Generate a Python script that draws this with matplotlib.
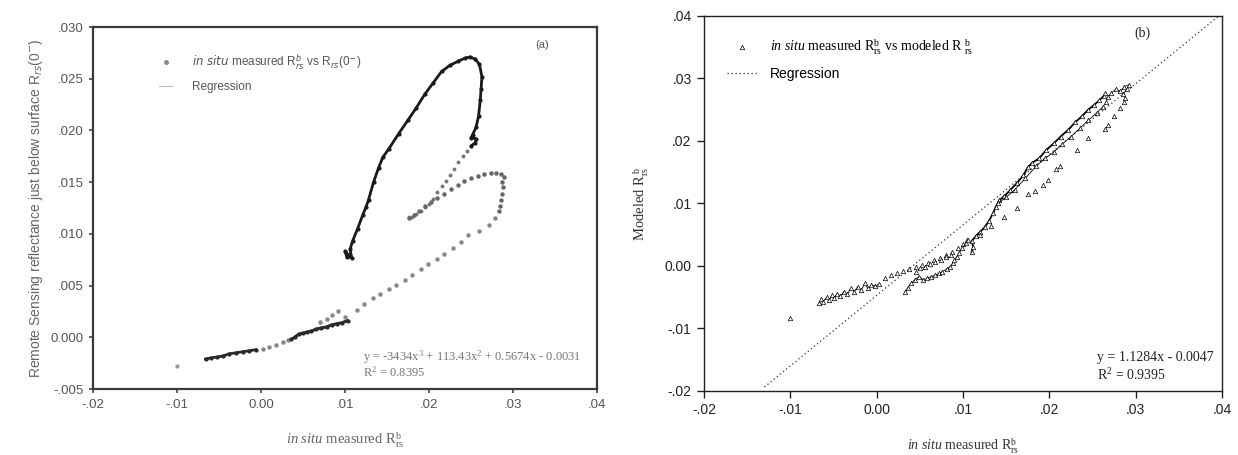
import matplotlib
matplotlib.use("Agg")
import matplotlib.pyplot as plt
from matplotlib.lines import Line2D

plt.rcParams["mathtext.fontset"] = "dejavusans"
plt.rcParams["mathtext.rm"] = "Liberation Serif"
plt.rcParams["mathtext.it"] = "Liberation Serif:italic"
plt.rcParams["mathtext.bf"] = "Liberation Serif:bold"

# ---------------- Panel (a) data ----------------
a_main_x = [0.0104, 0.0100, 0.0102, 0.0108, 0.0106, 0.0109, 0.0115, 0.0121, 0.0125, 0.0128, 0.0134, 0.0140,
            0.0145, 0.0152, 0.0164, 0.0175, 0.0185, 0.0195, 0.0205, 0.0215, 0.0225, 0.0235, 0.0243, 0.0249,
            0.0255, 0.0260, 0.0263, 0.0262, 0.0261, 0.0259, 0.0256, 0.0252, 0.0250, 0.0256, 0.0255, 0.0250]
a_main_y = [0.0080, 0.0083, 0.0078, 0.0077, 0.0085, 0.0093, 0.0105, 0.0118, 0.0126, 0.0133, 0.0150, 0.0164,
            0.0174, 0.0182, 0.0197, 0.0210, 0.0222, 0.0235, 0.0246, 0.0257, 0.0263, 0.0267, 0.0270, 0.0271,
            0.0269, 0.0264, 0.0252, 0.0240, 0.0229, 0.0214, 0.0203, 0.0196, 0.0193, 0.0192, 0.0188, 0.0185]

a_desc_x = [0.0245, 0.0240, 0.0235, 0.0230, 0.0225, 0.0220, 0.0215, 0.0210, 0.0205, 0.0200, 0.0195, 0.0190,
            0.0185, 0.0180, 0.0176]
a_desc_y = [0.0180, 0.0175, 0.0169, 0.0163, 0.0157, 0.0151, 0.0146, 0.0140, 0.0134, 0.0129, 0.0126, 0.0122,
            0.0119, 0.0116, 0.0116]

a_arm_x = [0.0176, 0.0182, 0.0188, 0.0195, 0.0202, 0.0210, 0.0218, 0.0226, 0.0234, 0.0242, 0.0250, 0.0258,
           0.0266, 0.0274, 0.0280, 0.0286, 0.0289, 0.0287, 0.0288, 0.0287, 0.0286, 0.0285, 0.0283]
a_arm_y = [0.0115, 0.0118, 0.0122, 0.0127, 0.0131, 0.0135, 0.0139, 0.0143, 0.0147, 0.0151, 0.0154, 0.0156,
           0.0158, 0.0159, 0.0159, 0.0158, 0.0155, 0.0150, 0.0145, 0.0139, 0.0133, 0.0127, 0.0122]

a_sparse_x = [0.0278, 0.0271, 0.0260, 0.0247, 0.0238, 0.0228, 0.0218, 0.0209, 0.0199, 0.0190, 0.0180, 0.0171,
              0.0161, 0.0152, 0.0142, 0.0133, 0.0123, 0.0114, 0.0002, 0.0010, 0.0018, 0.0026, 0.0032,
              0.0070, 0.0078, 0.0085, 0.0092, 0.0100]
a_sparse_y = [0.0115, 0.0109, 0.0103, 0.0099, 0.0092, 0.0086, 0.0081, 0.0076, 0.0071, 0.0066, 0.0060, 0.0055,
              0.0051, 0.0047, 0.0042, 0.0038, 0.0032, 0.0026, -0.0011, -0.0009, -0.0007, -0.0005, -0.0003,
              0.0015, 0.0018, 0.0022, 0.0025, 0.0020]

a_low1_x = [-0.0066, -0.0060, -0.0052, -0.0045, -0.0038, -0.0030, -0.0022, -0.0014, -0.0006]
a_low1_y = [-0.0021, -0.0020, -0.0019, -0.0018, -0.0016, -0.0015, -0.0014, -0.0013, -0.0012]
a_low2_x = [0.0036, 0.0040, 0.0045, 0.0050, 0.0055, 0.0060, 0.0066, 0.0072, 0.0078, 0.0084, 0.0090, 0.0096, 0.0103]
a_low2_y = [-0.0002, 0.0000, 0.0003, 0.0004, 0.0005, 0.0006, 0.0008, 0.0009, 0.0010, 0.0012, 0.0013, 0.0014, 0.0016]

a_iso_x = [-0.0100]
a_iso_y = [-0.0028]

a_xticks = [-0.02, -0.01, 0.00, 0.01, 0.02, 0.03, 0.04]
a_xticklabels = ["-.02", "-.01", "0.00", ".01", ".02", ".03", ".04"]
a_yticks = [-0.005, 0.000, 0.005, 0.010, 0.015, 0.020, 0.025, 0.030]
a_yticklabels = ["-.005", "0.000", ".005", ".010", ".015", ".020", ".025", ".030"]

# ---------------- Panel (b) data ----------------
b_left_x = [-0.0067, -0.0064, -0.0062, -0.0058, -0.0055, -0.0052, -0.0050, -0.0046, -0.0042, -0.0038, -0.0034,
            -0.0030, -0.0026, -0.0022, -0.0018, -0.0014, -0.0010, -0.0006, -0.0002, 0.0003]
b_left_y = [-0.0060, -0.0053, -0.0057, -0.0050, -0.0055, -0.0047, -0.0052, -0.0045, -0.0048, -0.0041, -0.0045,
            -0.0036, -0.0041, -0.0033, -0.0039, -0.0028, -0.0036, -0.0030, -0.0032, -0.0029]

b_upper_x = [0.0010, 0.0017, 0.0024, 0.0031, 0.0038, 0.0045, 0.0052, 0.0059, 0.0066, 0.0073, 0.0080, 0.0087,
             0.0094, 0.0100, 0.0105]
b_upper_y = [-0.0019, -0.0015, -0.0012, -0.0008, -0.0005, -0.0002, 0.0002, 0.0005, 0.0009, 0.0013, 0.0018,
             0.0023, 0.0028, 0.0035, 0.0042]

b_lower_x = [0.0033, 0.0036, 0.0040, 0.0044, 0.0049, 0.0054, 0.0058, 0.0063, 0.0067, 0.0072, 0.0076, 0.0081,
             0.0085, 0.0088, 0.0090, 0.0093, 0.0095, 0.0099, 0.0103, 0.0106]
b_lower_y = [-0.0041, -0.0035, -0.0028, -0.0022, -0.0017, -0.0022, -0.0020, -0.0017, -0.0015, -0.0012, -0.0009,
             -0.0005, -0.0001, 0.0004, 0.0010, 0.0015, 0.0020, 0.0028, 0.0036, 0.0042]
b_lower2_x = [0.0045, 0.0050, 0.0056, 0.0062, 0.0068, 0.0074, 0.0080, 0.0086]
b_lower2_y = [-0.0010, -0.0004, -0.0001, 0.0003, 0.0006, 0.0010, 0.0014, 0.0018]

b_main_x = [0.0110, 0.0112, 0.0110, 0.0115, 0.0120, 0.0125, 0.0130, 0.0135, 0.0138, 0.0142, 0.0148, 0.0155,
            0.0162, 0.0170, 0.0175, 0.0180, 0.0188, 0.0196, 0.0205, 0.0213, 0.0222, 0.0230, 0.0238, 0.0245,
            0.0252, 0.0258, 0.0263, 0.0265]
b_main_y = [0.0022, 0.0030, 0.0040, 0.0048, 0.0055, 0.0062, 0.0072, 0.0085, 0.0095, 0.0105, 0.0112, 0.0122,
            0.0132, 0.0145, 0.0158, 0.0165, 0.0172, 0.0185, 0.0196, 0.0207, 0.0218, 0.0230, 0.0240, 0.0250,
            0.0258, 0.0265, 0.0272, 0.0276]

b_branch_x = [0.0140, 0.0150, 0.0160, 0.0172, 0.0185, 0.0195, 0.0205, 0.0215, 0.0225, 0.0235, 0.0245, 0.0255,
              0.0262, 0.0266]
b_branch_y = [0.0100, 0.0110, 0.0122, 0.0140, 0.0160, 0.0172, 0.0182, 0.0195, 0.0207, 0.0220, 0.0233, 0.0245,
              0.0255, 0.0262]

b_top_x = [0.0268, 0.0272, 0.0277, 0.0282, 0.0287, 0.0292, 0.0290, 0.0285, 0.0288]
b_top_y = [0.0270, 0.0277, 0.0283, 0.0280, 0.0287, 0.0290, 0.0283, 0.0275, 0.0268]

b_sparse_x = [0.0287, 0.0282, 0.0275, 0.0268, 0.0265, 0.0245, 0.0232, 0.0212, 0.0208, 0.0198, 0.0193, 0.0183,
              0.0175, 0.0162, 0.0148, 0.0133, 0.0120]
b_sparse_y = [0.0262, 0.0252, 0.0240, 0.0225, 0.0219, 0.0205, 0.0186, 0.0160, 0.0155, 0.0137, 0.0130, 0.0120,
              0.0115, 0.0093, 0.0078, 0.0064, 0.0050]

b_iso_x = [-0.0100]
b_iso_y = [-0.0083]

b_reg_x = [-0.0130, 0.0396]
b_reg_slope = 1.1284
b_reg_icpt = -0.0047

b_xticks = [-0.02, -0.01, 0.00, 0.01, 0.02, 0.03, 0.04]
b_xticklabels = ["-.02", "-.01", "0.00", ".01", ".02", ".03", ".04"]
b_yticks = [-0.02, -0.01, 0.00, 0.01, 0.02, 0.03, 0.04]
b_yticklabels = ["-.02", "-.01", "0.00", ".01", ".02", ".03", ".04"]

# ---------------- Figure ----------------
fig = plt.figure(figsize=(12.38, 4.55), dpi=100)
SANS = ["Liberation Sans", "DejaVu Sans"]
SERIF = ["Liberation Serif", "DejaVu Serif"]
grey = "#555555"

# ---- Panel (a) ----
axa = fig.add_axes([93/1238, 1-389/455, 504/1238, 362/455])
axa.plot(a_main_x, a_main_y, color="#1a1a1a", lw=2.0, marker="o", ms=2.0, solid_capstyle="round")
axa.plot(a_desc_x, a_desc_y, ls="none", marker="o", ms=1.8, color="#777777")
axa.plot(a_arm_x, a_arm_y, ls="none", marker="o", ms=2.2, color="#666666")
axa.plot(a_sparse_x, a_sparse_y, ls="none", marker="o", ms=2.2, color="#888888")
axa.plot(a_low1_x, a_low1_y, color="#2a2a2a", lw=2.0, marker="o", ms=2.0)
axa.plot(a_low2_x, a_low2_y, color="#2a2a2a", lw=2.2, marker="o", ms=2.0)
axa.plot(a_iso_x, a_iso_y, ls="none", marker="o", ms=2.0, color="#999999")
axa.set_xlim(-0.02, 0.04)
axa.set_ylim(-0.005, 0.030)
axa.set_xticks(a_xticks)
axa.set_xticklabels(a_xticklabels, family=SANS, fontsize=9.5, color=grey)
axa.set_yticks(a_yticks)
axa.set_yticklabels(a_yticklabels, family=SANS, fontsize=9.5, color=grey)
axa.tick_params(direction="out", length=3, width=1.2, color="#444444", pad=4)
for s in axa.spines.values():
    s.set_linewidth(1.6)
    s.set_color("#3a3a3a")
axa.set_ylabel(r"Remote Sensing reflectance just below surface R$_{rs}$(0$^{-}$)",
               family=SANS, fontsize=10, color="#666666", labelpad=4, math_fontfamily="dejavusans")
axa.set_xlabel(r"$\mathit{in\ situ}$ measured R$^{\mathrm{b}}_{\mathrm{rs}}$", family=SERIF, fontsize=10.5,
               color="#666666", labelpad=14, math_fontfamily="custom")
hA = [Line2D([], [], ls="none", marker="o", ms=2.5, color="#888888"),
      Line2D([], [], ls="-", lw=0.8, color="#bbbbbb")]
lega = axa.legend(hA, [r"$\mathit{in\ situ}$ measured R$^{b}_{rs}$ vs R$_{rs}$(0$^{-}$)", "Regression"],
                  loc="upper left", bbox_to_anchor=(0.11, 0.96), frameon=False, handlelength=1.2,
                  handletextpad=1.6, labelspacing=0.8, prop={"family": SANS, "size": 8.5})
for t in lega.get_texts():
    t.set_color("#555555")
    t.set_math_fontfamily("dejavusans")
axa.text(0.878, 0.95, "(a)", transform=axa.transAxes, family=SANS, fontsize=8, color=grey, va="center")
axa.text(0.535, 0.088, "y = -3434x$^{3}$ + 113.43x$^{2}$ + 0.5674x - 0.0031", transform=axa.transAxes,
         family=SERIF, fontsize=9, color="#777777", va="center", math_fontfamily="custom")
axa.text(0.535, 0.045, "R$^{2}$ = 0.8395", transform=axa.transAxes,
         family=SERIF, fontsize=9, color="#777777", va="center", math_fontfamily="custom")

# ---- Panel (b) ----
axb = fig.add_axes([704/1238, 1-391/455, 518/1238, 375/455])
tri = dict(marker="^", ms=3.2, mfc="white", mec="black", mew=0.5)
reg_y = [b_reg_slope * v + b_reg_icpt for v in b_reg_x]
axb.plot(b_reg_x, reg_y, ls=(0, (1, 2.2)), lw=0.9, color="#333333")
axb.plot(b_left_x, b_left_y, color="black", lw=0.6, **tri)
axb.plot(b_upper_x, b_upper_y, ls="none", **tri)
axb.plot(b_lower_x, b_lower_y, color="black", lw=0.6, **tri)
axb.plot(b_lower2_x, b_lower2_y, ls="none", **tri)
axb.plot(b_main_x, b_main_y, color="black", lw=1.3, **tri)
axb.plot(b_branch_x, b_branch_y, color="black", lw=0.6, **tri)
axb.plot(b_top_x, b_top_y, color="black", lw=0.5, **tri)
axb.plot(b_sparse_x, b_sparse_y, ls="none", **tri)
axb.plot(b_iso_x, b_iso_y, ls="none", **tri)
axb.set_xlim(-0.02, 0.04)
axb.set_ylim(-0.02, 0.04)
axb.set_xticks(b_xticks)
axb.set_xticklabels(b_xticklabels, family=SANS, fontsize=10, color="#222222")
axb.set_yticks(b_yticks)
axb.set_yticklabels(b_yticklabels, family=SANS, fontsize=10, color="#222222")
axb.tick_params(direction="out", length=5, width=1.0, color="#222222", pad=4)
for s in axb.spines.values():
    s.set_linewidth(1.0)
    s.set_color("#222222")
axb.set_ylabel(r"Modeled R$^{\ \mathrm{b}}_{\mathrm{rs}}$", family=SERIF, fontsize=10.5, color="#333333",
               labelpad=10, math_fontfamily="custom")
axb.set_xlabel(r"$\mathit{in\ situ}$ measured R$^{\mathrm{b}}_{\mathrm{rs}}$", family=SERIF, fontsize=10,
               color="#333333", labelpad=14, math_fontfamily="custom")
hB = [Line2D([], [], ls="none", **tri),
      Line2D([], [], ls=(0, (1, 2.2)), lw=0.9, color="#333333")]
legb = axb.legend(hB, [r"$\mathit{in\ situ}$ measured R$^{\mathrm{b}}_{\mathrm{rs}}$ vs modeled R $^{\mathrm{b}}_{\mathrm{rs}}$",
                       "Regression"],
                  loc="upper left", bbox_to_anchor=(0.02, 0.975), frameon=False, handlelength=2.2,
                  handletextpad=0.9, labelspacing=0.7, prop={"family": SERIF, "size": 10})
for t in legb.get_texts():
    t.set_math_fontfamily("custom")
legb.get_texts()[1].set_family(SANS)
axb.text(0.83, 0.955, "(b)", transform=axb.transAxes, family=SERIF, fontsize=10, color="#222222", va="center")
axb.text(0.759, 0.088, "y = 1.1284x - 0.0047", transform=axb.transAxes,
         family=SERIF, fontsize=10, color="#222222", va="center")
axb.text(0.759, 0.043, "R$^{2}$ = 0.9395", transform=axb.transAxes,
         family=SERIF, fontsize=10, color="#222222", va="center", math_fontfamily="custom")

fig.savefig("out.png", dpi=100)
